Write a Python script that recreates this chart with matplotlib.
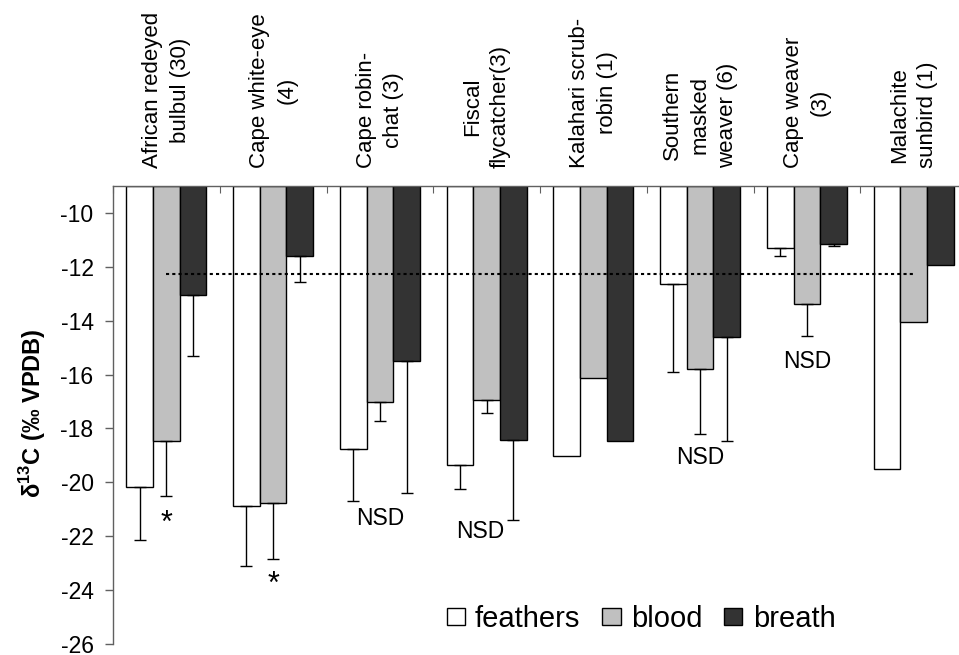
import numpy as np
import matplotlib
matplotlib.use("Agg")
import matplotlib.pyplot as plt
from matplotlib.patches import Patch
from matplotlib.transforms import blended_transform_factory

plt.rcParams['font.family'] = ['Liberation Sans', 'DejaVu Sans']
plt.rcParams['mathtext.fontset'] = 'custom'
plt.rcParams['mathtext.rm'] = 'Liberation Sans'
plt.rcParams['mathtext.bf'] = 'Liberation Sans:bold'
plt.rcParams['axes.unicode_minus'] = False

###### Data ######
species = ["African redeyed\nbulbul (30)", "Cape white-eye\n(4)", "Cape robin-\nchat (3)",
           "Fiscal\nflycatcher(3)", "Kalahari scrub-\nrobin (1)", "Southern\nmasked\nweaver (6)",
           "Cape weaver\n(3)", "Malachite\nsunbird (1)"]

feathers = [-20.17, -20.88, -18.77, -19.35, -19.03, -12.63, -11.29, -19.52]
feathers_err = [1.98, 2.22, 1.92, 0.88, 0, 3.28, 0.31, 0]
blood = [-18.47, -20.75, -17.00, -16.95, -16.13, -15.79, -13.39, -14.03]
blood_err = [2.05, 2.10, 0.72, 0.47, 0, 2.40, 1.16, 0]
breath = [-13.05, -11.60, -15.49, -18.41, -18.47, -14.61, -11.17, -11.93]
breath_err = [2.26, 0.98, 4.90, 2.99, 0, 3.86, 0.07, 0]

diet_mean = -12.27   # dotted reference line

# significance labels: (group index, x shift, y value)
stars = [(0, 0.0, -21.55), (1, 0.0, -23.8)]
nsd = [(2, 0.0, -21.33), (3, -0.06, -21.84), (5, 0.0, -19.08), (6, 0.0, -15.5)]

###### Plot ######
fig = plt.figure(figsize=(9.59, 6.55), dpi=100)
ax = fig.add_axes([113/959, 1 - 644/655, 854/959, 458/655])

x = np.arange(len(species))
w = 0.25
top = -9
series = [(feathers, feathers_err, 'white', 'feathers'),
          (blood, blood_err, '#c0c0c0', 'blood'),
          (breath, breath_err, '#333333', 'breath')]

for i, (vals, err, col, lab) in enumerate(series):
    vals = np.array(vals)
    err = np.array(err)
    xs = x + (i - 1) * w
    ax.bar(xs, vals - top, bottom=top, width=w, color=col, edgecolor='black',
           linewidth=1, zorder=2)
    m = err > 0
    ax.errorbar(xs[m], vals[m], yerr=[err[m], np.zeros(m.sum())], fmt='none',
                ecolor='black', elinewidth=1, capsize=4.5, capthick=1, zorder=3)

ax.plot([x[0], x[-1]], [diet_mean, diet_mean], color='black', lw=1.5,
        linestyle=(0, (1.5, 1.5)), zorder=4)

for g, dx, yv in stars:
    ax.text(g + dx, yv, "*", ha='center', va='center', fontsize=22)
for g, dx, yv in nsd:
    ax.text(g + dx, yv, "NSD", ha='center', va='center', fontsize=16.5)

ax.set_xlim(-0.5, len(species) - 0.5)
ax.set_ylim(-26, -9)
ax.set_yticks(np.arange(-26, -9, 2))

# x axis on top with small inward ticks between groups
ax.xaxis.tick_top()
ax.set_xticks(np.arange(-0.5, len(species), 1))
ax.set_xticklabels([])
ax.tick_params(axis='x', direction='in', length=5, color='#606060')
ax.tick_params(axis='y', direction='out', length=6, width=1, color='#606060',
               labelsize=16.5, pad=8)

trans = blended_transform_factory(ax.transData, ax.transAxes)
for i, name in enumerate(species):
    ax.annotate(name, xy=(x[i], 1), xycoords=trans, xytext=(0, 13),
                textcoords='offset points', rotation=90, ha='center', va='bottom',
                multialignment='center', fontsize=16, linespacing=1.4)

for side in ['right', 'bottom']:
    ax.spines[side].set_visible(False)
for side in ['left', 'top']:
    ax.spines[side].set_color('#606060')
    ax.spines[side].set_linewidth(1)

ax.set_ylabel(r'δ$^{\mathbf{13}}$C (‰ VPDB)', fontsize=17, fontweight='bold')
ax.yaxis.set_label_coords(-0.076, 0.505)

handles = [Patch(facecolor=c, edgecolor='black', linewidth=1) for _, _, c, _ in series]
fig.legend(handles, [s[3] for s in series], loc='center', ncol=3,
           bbox_to_anchor=(641/959, 1 - 619/655), frameon=False, fontsize=21,
           handlelength=0.62, handleheight=0.52, handletextpad=0.35,
           columnspacing=0.76, borderpad=0)

fig.savefig("out.png", dpi=100)
